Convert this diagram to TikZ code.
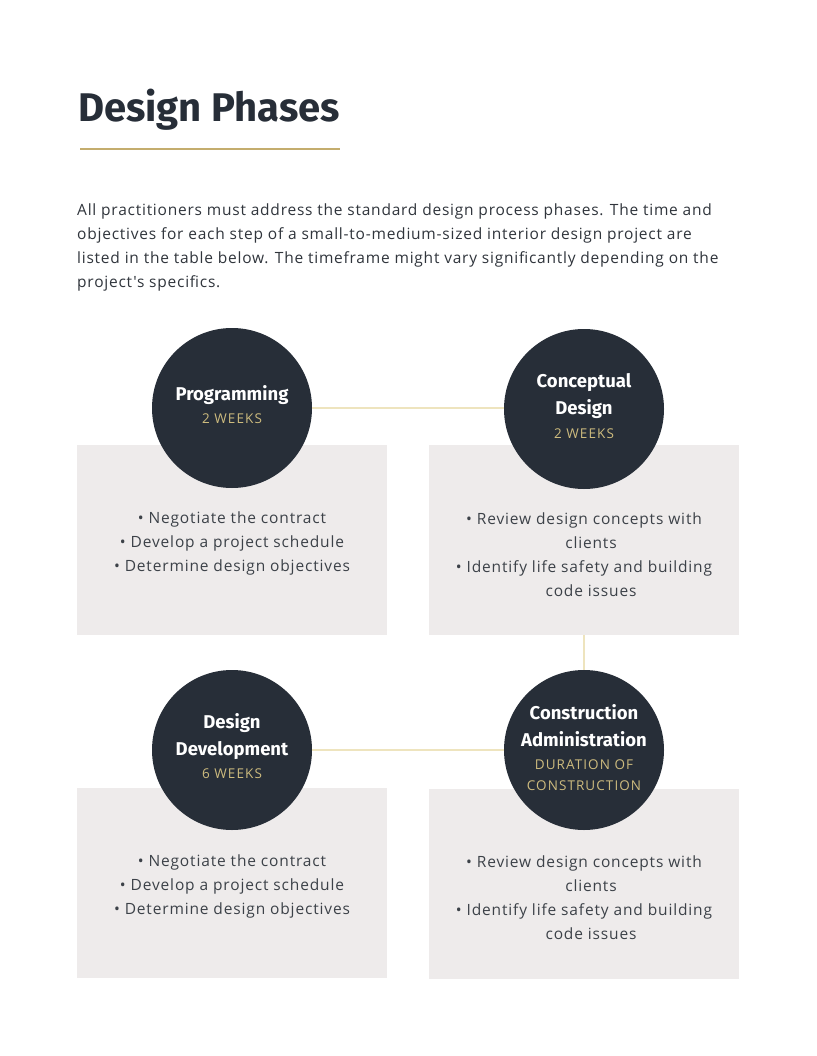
\documentclass[tikz,border=0pt]{standalone}
\usepackage{fontspec}
\setmainfont{Open Sans}[LetterSpace=5.5]
\newfontfamily\headfont{Fira Sans}
\newfontfamily\parafont{Open Sans}[LetterSpace=5.0]
\newfontfamily\capfont{Open Sans}[LetterSpace=8.0]
\definecolor{ink}{HTML}{272E38}
\definecolor{gold}{HTML}{C4AD6E}
\definecolor{paleline}{HTML}{EEE4BE}
\definecolor{boxfill}{HTML}{EEEBEB}
\definecolor{bodytxt}{HTML}{3C4148}
\definecolor{paratxt}{HTML}{30353C}
\definecolor{subgold}{HTML}{CDBB7E}
\tikzset{
  phasebox/.style={fill=boxfill, draw=none, minimum width=310pt, minimum height=190pt, inner sep=0pt},
  phasecircle/.style={circle, fill=ink, draw=none, minimum size=160pt, inner sep=0pt},
  link/.style={draw=paleline, line width=1.5pt},
  bullets/.style={font=\fontsize{15.5}{24}\selectfont, text=bodytxt, align=center},
  ctitle/.style={font=\headfont\bfseries\fontsize{18.5}{27}\selectfont, text=white, align=center},
  csub/.style={font=\capfont\fontsize{13.5}{21}\selectfont, text=subgold, align=center},
}
\begin{document}
\begin{tikzpicture}[x=1pt,y=-1pt]
\useasboundingbox (0,0) rectangle (816,1056);
\fill[white] (0,0) rectangle (816,1056);
% title
\node[anchor=base west, inner sep=0pt, text=ink, font=\headfont\bfseries\fontsize{40}{46}\selectfont] (title) at (78,122) {Design Phases};
\coordinate (ruleL) at (80,149);
\coordinate (ruleR) at (340,149);
\draw[gold, line width=2pt] (ruleL) -- (ruleR);
% paragraph
\node[anchor=north west, inner sep=0pt, text=paratxt, align=left, font=\parafont\fontsize{15.5}{24}\selectfont] (para) at (77,204)
{All practitioners must address the standard design process phases. The time and\\
objectives for each step of a small-to-medium-sized interior design project are\\
listed in the table below. The timeframe might vary significantly depending on the\\
project's specifics.};
% boxes
\node[phasebox] (b1) at (232,540) {};
\node[phasebox] (b2) at (584,540) {};
\node[phasebox] (b3) at (232,883) {};
\node[phasebox] (b4) at (584,884) {};
% circles
\node[phasecircle] (c1) at (232,408) {};
\node[phasecircle] (c2) at (584,409) {};
\node[phasecircle] (c3) at (232,750) {};
\node[phasecircle] (c4) at (584,750) {};
% links
\draw[link] (c1.east) -- (c2.west |- c1.east);
\draw[link] (b2.south) -- (c4.north);
\draw[link] (c3.east) -- (c4.west);
% circle texts
\node[ctitle] (t1) at (232,395) {Programming};
\node[csub] (s1) at (232,419) {2 WEEKS};
\node[ctitle] (t2) at (584,396) {Conceptual\\Design};
\node[csub] (s2) at (584,434) {2 WEEKS};
\node[ctitle] (t3) at (232,737) {Design\\Development};
\node[csub] (s3) at (232,774) {6 WEEKS};
\node[ctitle] (t4) at (584,726) {Construction\\Administration};
\node[csub] (s4) at (584,775) {DURATION OF\\CONSTRUCTION};
% box texts
\node[bullets] (x1) at (232,543) {• Negotiate the contract\\• Develop a project schedule\\• Determine design objectives};
\node[bullets] (x2) at (584,555) {• Review design concepts with\\\hspace*{14pt}clients\\• Identify life safety and building\\\hspace*{14pt}code issues};
\node[bullets] (x3) at (232,886) {• Negotiate the contract\\• Develop a project schedule\\• Determine design objectives};
\node[bullets] (x4) at (584,898) {• Review design concepts with\\\hspace*{14pt}clients\\• Identify life safety and building\\\hspace*{14pt}code issues};
\end{tikzpicture}
\end{document}
